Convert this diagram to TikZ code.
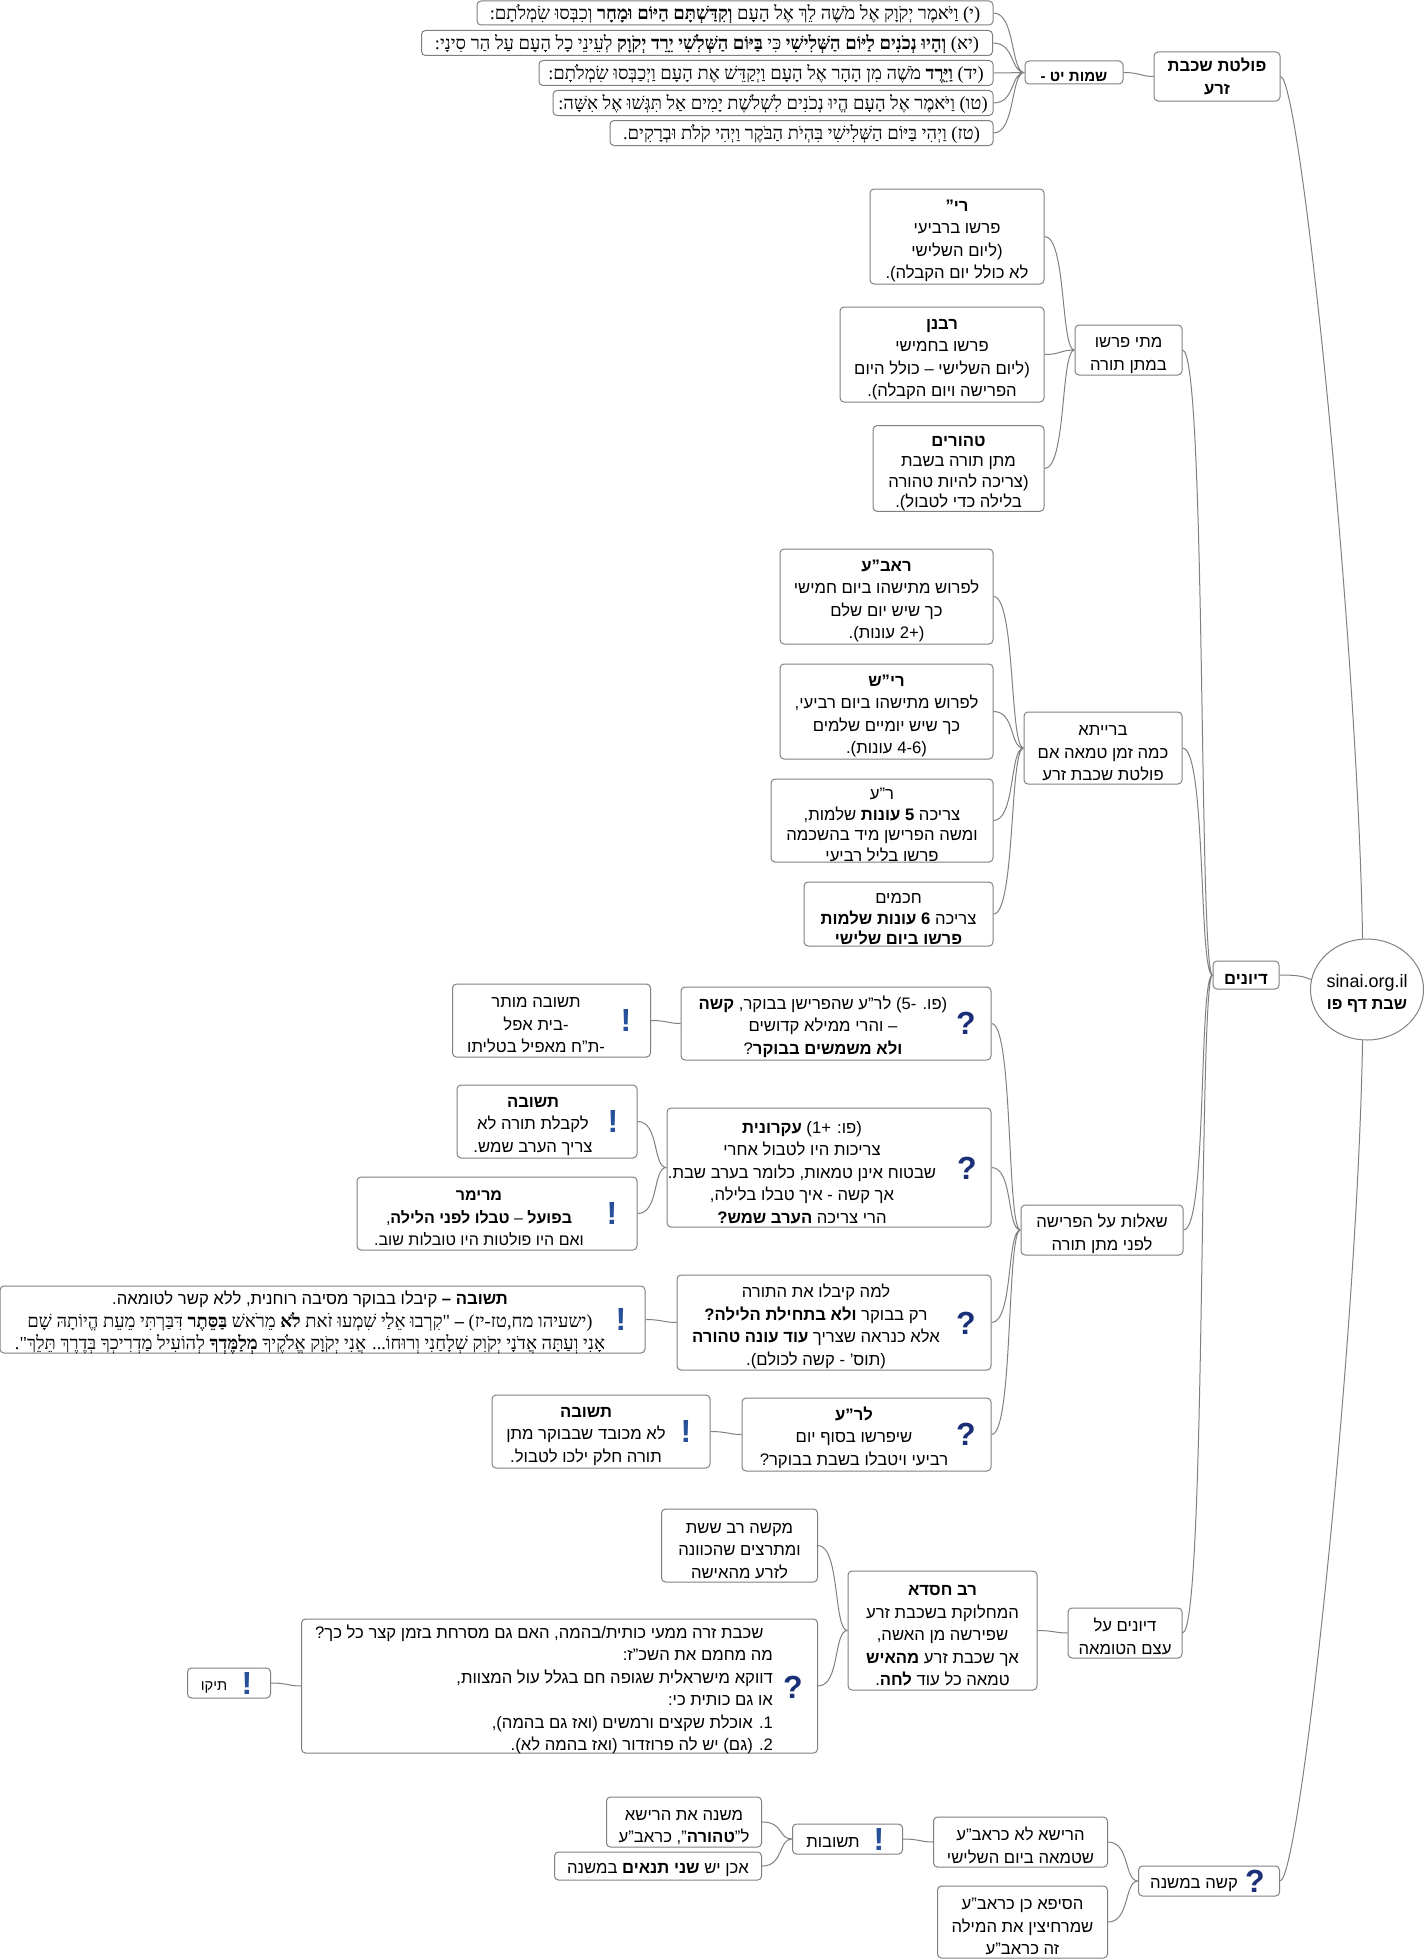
\documentclass[tikz,border=0pt]{standalone}
\usepackage{fontspec}
\usetikzlibrary{shapes.geometric}
\setmainfont[Script=Hebrew]{Liberation Sans}
\newfontfamily\versefont[Script=Hebrew]{Liberation Serif}
\TeXXeTstate=1
\newcommand{\rl}[1]{\beginR #1\endR}
\newcommand{\lr}[1]{\beginL #1\endL{}}
\newcommand{\dn}{\rule{0pt}{15.5pt}}
\definecolor{linegray}{HTML}{808080}
\definecolor{quest}{HTML}{1A2F78}
\definecolor{excl}{HTML}{27509A}
\tikzset{
  sized/.style 2 args={minimum width=#1*.75pt,minimum height=#2*.75pt},
  box/.style={draw=linegray,line width=.75pt,rounded corners=3pt,inner sep=0pt,align=center,
    font=\fontsize{12.5}{16.9}\selectfont},
  onebox/.style={box,execute at begin node=\rule{0pt}{13.5pt}},
  tight/.style={font=\fontsize{12.5}{15.4}\selectfont},
  txt/.style={inner sep=0pt,align=center,font=\fontsize{12.5}{16.9}\selectfont},
  onetxt/.style={txt,execute at begin node=\rule{0pt}{13.5pt}},
  verse/.style={box,font=\versefont\fontsize{13.8}{16}\selectfont,
    execute at begin node=\rule{0pt}{13pt}},
  link/.style={draw=linegray,line width=.75pt},
  qmark/.style={inner sep=0pt,text=quest,font=\bfseries\fontsize{24}{24}\selectfont},
  emark/.style={inner sep=0pt,text=excl,font=\bfseries\fontsize{24}{24}\selectfont},
}
\begin{document}
\begin{tikzpicture}[x=.75pt,y=-.75pt]
  \useasboundingbox (0,0) rectangle (1424,1959);
  % root
  \node[draw=linegray,line width=.75pt,ellipse,inner sep=0pt,sized={113}{101}] (root) at (1367,989.5) {};
  \node[txt] (roottext) at (1367,989.5) {\fontsize{13.5}{16.9}\selectfont\dn sinai.org.il\\\fontsize{12.3}{16.9}\selectfont\rl{\textbf{שבת דף פו}}};
  % top branch
  \node[box,sized={126}{49}] (polet) at (1217,76.5) {\rl{\textbf{פולטת שכבת}}\\\rl{\textbf{זרע}}};
  \node[onebox,sized={98}{23},font=\fontsize{11.3}{14}\selectfont] (shemot) at (1074,72.5) {\rl{\textbf{שמות יט -}}};
  \node[verse,sized={516}{24}] (vten) at (735,13) {\rl{(י) וַיֹּאמֶר יְקֹוָק אֶל מֹשֶׁה לֵךְ אֶל הָעָם \textbf{וְקִדַּשְׁתָּם הַיּוֹם וּמָחָר} וְכִבְּסוּ שִׂמְלֹתָם:}};
  \node[verse,sized={571}{25}] (veleven) at (707,43) {\rl{(יא) \textbf{וְהָיוּ נְכֹנִים לַיּוֹם הַשְּׁלִישִׁי} כִּי \textbf{בַּיּוֹם הַשְּׁלִשִׁי יֵרֵד יְקֹוָק} לְעֵינֵי כָל הָעָם עַל הַר סִינָי:}};
  \node[verse,sized={454}{25}] (vfourteen) at (766,73) {\rl{(יד) \textbf{וַיֵּרֶד} מֹשֶׁה מִן הָהָר אֶל הָעָם וַיְקַדֵּשׁ אֶת הָעָם וַיְכַבְּסוּ שִׂמְלֹתָם:}};
  \node[verse,sized={440}{25}] (vfifteen) at (773,103) {\rl{(טו) וַיֹּאמֶר אֶל הָעָם הֱיוּ נְכֹנִים לִשְׁלֹשֶׁת יָמִים אַל תִּגְּשׁוּ אֶל אִשָּׁה:}};
  \node[verse,sized={383}{25}] (vsixteen) at (801.5,133) {\rl{(טז) וַיְהִי בַּיּוֹם הַשְּׁלִישִׁי בִּהְיֹת הַבֹּקֶר וַיְהִי קֹלֹת וּבְרָקִים.}};
  % main branch
  \node[onebox,sized={66}{28}] (dionim) at (1246,975) {\rl{\textbf{דיונים}}};
  \node[box,sized={107}{50}] (matai) at (1128.5,350) {\dn\rl{מתי פרשו}\\\rl{במתן תורה}};
  \node[box,sized={174}{95}] (ri) at (957,236.5) {\dn\rl{\textbf{רי"}}\\\rl{פרשו ברביעי}\\\rl{(ליום השלישי}\\\rl{לא כולל יום הקבלה).}};
  \node[box,sized={204}{95}] (rabanan) at (942,354.5) {\dn\rl{\textbf{רבנן}}\\\rl{פרשו בחמישי}\\\rl{(ליום השלישי – כולל היום}\\\rl{הפרישה ויום הקבלה).}};
  \node[box,tight,sized={171}{85}] (tehorim) at (958.5,468.5) {\dn\rl{\textbf{טהורים}}\\\rl{מתן תורה בשבת}\\\rl{(צריכה להיות טהורה}\\\rl{בלילה כדי לטבול).}};
  \node[box,sized={158}{72}] (braita) at (1103,748) {\dn\rl{ברייתא}\\\rl{כמה זמן טמאה אם}\\\rl{פולטת שכבת זרע}};
  \node[box,sized={213}{95}] (raava) at (886.5,596.5) {\dn\rl{\textbf{ראב"ע}}\\\rl{לפרוש מתישהו ביום חמישי}\\\rl{כך שיש יום שלם}\\\rl{(\lr{+2} עונות).}};
  \node[box,sized={213}{95}] (rish) at (886.5,711.5) {\dn\rl{\textbf{רי"ש}}\\\rl{לפרוש מתישהו ביום רביעי,}\\\rl{כך שיש יומיים שלמים}\\\rl{(\lr{4-6} עונות).}};
  \node[box,tight,sized={222}{83}] (ra) at (882,820.5) {\dn\rl{ר"ע}\\\rl{צריכה \textbf{5 עונות} שלמות,}\\\rl{ומשה הפרישן מיד בהשכמה}\\\rl{פרשו בליל רביעי}};
  \node[box,tight,sized={189}{64}] (chachamim) at (898.5,914) {\dn\rl{חכמים}\\\rl{צריכה \textbf{6 עונות שלמות}}\\\rl{\textbf{פרשו ביום שלישי}}};
  \node[box,sized={162}{50}] (sheelot) at (1102,1230) {\dn\rl{שאלות על הפרישה}\\\rl{לפני מתן תורה}};
  \node[box,sized={310}{73}] (qfive) at (836,1023.5) {};
  \node[txt] (qfivetext) at (823,1023) {\dn\rl{(פו. \lr{-5}) לר"ע שהפרישן בבוקר, \textbf{קשה}}\\\rl{– והרי ממילא קדושים}\\\rl{\textbf{ולא משמשים בבוקר}?}};
  \node[qmark] (qfivemark) at (966,1023) {?};
  \node[box,sized={198}{73}] (mutar) at (551.5,1020.5) {};
  \node[txt] (mutartext) at (536,1020) {\dn\rl{תשובה מותר}\\\rl{-בית אפל}\\\rl{-ת"ח מאפיל בטליתו}};
  \node[emark] (mutarmark) at (626,1020) {!};
  \node[box,sized={324}{119}] (qone) at (829,1167.5) {};
  \node[txt] (qonetext) at (802,1168) {\dn\rl{(פו: \lr{+1}) \textbf{עקרונית}}\\\rl{צריכות היו לטבול אחרי}\\\rl{שבטוח אינן טמאות, כלומר בערב שבת.}\\\rl{אך קשה - איך טבלו בלילה,}\\\rl{הרי צריכה \textbf{הערב שמש?}}};
  \node[qmark] (qonemark) at (967,1168) {?};
  \node[box,sized={180}{73}] (tshuvaa) at (547,1121.5) {};
  \node[txt] (tshuvaatext) at (533,1121) {\dn\rl{\textbf{תשובה}}\\\rl{לקבלת תורה לא}\\\rl{צריך הערב שמש.}};
  \node[emark] (tshuvaamark) at (613,1121) {!};
  \node[box,sized={280}{73}] (mareimar) at (497,1213.5) {};
  \node[txt,font=\fontsize{12}{16.9}\selectfont] (mareimartext) at (479,1213) {\dn\rl{\textbf{מרימר}}\\\rl{\textbf{בפועל} – \textbf{טבלו לפני הלילה},}\\\rl{ואם היו פולטות היו טובלות שוב.}};
  \node[emark] (mareimarmark) at (612,1213) {!};
  \node[box,sized={314}{95}] (lama) at (834,1322.5) {};
  \node[txt] (lamatext) at (816,1323) {\dn\rl{למה קיבלו את התורה}\\\rl{רק בבוקר \textbf{ולא בתחילת הלילה?}}\\\rl{אלא כנראה שצריך \textbf{עוד עונה טהורה}}\\\rl{(תוס' - קשה לכולם).}};
  \node[qmark] (lamamark) at (966,1323) {?};
  \node[box,sized={645}{67}] (kibelu) at (322.5,1319.5) {};
  \node[txt] (kibelutext) at (310,1319) {\fontsize{12.5}{15}\selectfont\dn\rl{\textbf{תשובה –} קיבלו בבוקר מסיבה רוחנית, ללא קשר לטומאה.}\\
    \versefont\fontsize{13.8}{15}\selectfont\rl{(ישעיהו מח,טז-יז) \textbf{–} "קִרְבוּ אֵלַי שִׁמְעוּ זֹאת \textbf{לֹא} מֵרֹאשׁ \textbf{בַּסֵּתֶר} דִּבַּרְתִּי מֵעֵת הֱיוֹתָהּ שָׁם}\\
    \versefont\fontsize{13.8}{15}\selectfont\rl{אָנִי וְעַתָּה אֲדֹנָי יְקֹוִק שְׁלָחַנִי וְרוּחוֹ... אֲנִי יְקֹוָק אֱלֹקֶיךָ \textbf{מְלַמֶּדְךָ} לְהוֹעִיל מַדְרִיכְךָ בְּדֶרֶךְ תֵּלֵךְ".}};
  \node[emark] (kibelumark) at (621,1319) {!};
  \node[box,sized={249}{73}] (lera) at (866.5,1434.5) {};
  \node[txt] (leratext) at (854,1434) {\dn\rl{\textbf{לר"ע}}\\\rl{שיפרשו בסוף יום}\\\rl{רביעי ויטבלו בשבת בבוקר?}};
  \node[qmark] (leramark) at (966,1434) {?};
  \node[box,sized={218}{73}] (tshuvab) at (601,1431.5) {};
  \node[txt] (tshuvabtext) at (586,1431) {\dn\rl{\textbf{תשובה}}\\\rl{לא מכובד שבבוקר מתן}\\\rl{תורה חלק ילכו לטבול.}};
  \node[emark] (tshuvabmark) at (686,1431) {!};
  \node[box,sized={114}{50}] (etzem) at (1125,1633) {\dn\rl{דיונים על}\\\rl{עצם הטומאה}};
  \node[box,sized={189}{119}] (chisda) at (942.5,1630.5) {\dn\rl{\textbf{רב חסדא}}\\\rl{המחלוקת בשכבת זרע}\\\rl{שפירשה מן האשה,}\\\rl{אך שכבת זרע \textbf{מהאיש}}\\\rl{טמאה כל עוד \textbf{לחה}.}};
  \node[box,sized={156}{73}] (makshe) at (739.5,1545.5) {\dn\rl{מקשה רב ששת}\\\rl{ומתרצים שהכוונה}\\\rl{לזרע מהאישה}};
  \node[box,sized={516}{134}] (shichvat) at (559.5,1686) {};
  \node[txt,align=right] (shichvattext) at (544,1686) {\dn\rl{\hspace*{7pt}שכבת זרה ממעי כותית/בהמה, האם גם מסרחת בזמן קצר כל כך?}\\\rl{מה מחמם את השכ"ז:}\\\rl{דווקא מישראלית שגופה חם בגלל עול המצוות,}\\\rl{או גם כותית כי:}\\\rl{1. אוכלת שקצים ורמשים (ואז גם בהמה),}\\\rl{2. (גם) יש לה פרוזדור (ואז בהמה לא).}};
  \node[qmark] (shichvatmark) at (793,1687) {?};
  \node[box,sized={83}{30}] (tiku) at (229,1683) {};
  \node[onetxt,font=\fontsize{11}{14}\selectfont] (tikutext) at (214,1683) {\rl{תיקו}};
  \node[emark] (tikumark) at (247,1683) {!};
  % bottom branch
  \node[box,sized={141}{30}] (kashe) at (1209,1881) {};
  \node[onetxt] (kashetext) at (1194,1881) {\rl{קשה במשנה}};
  \node[qmark] (kashemark) at (1255,1881) {?};
  \node[box,sized={174}{50}] (reisha) at (1020.5,1842) {\dn\rl{הרישא לא כראב"ע}\\\rl{שטמאה ביום השלישי}};
  \node[box,sized={170}{72}] (seifa) at (1022.5,1922) {\dn\rl{הסיפא כן כראב"ע}\\\rl{שמרחיצין את המילה}\\\rl{זה כראב"ע}};
  \node[box,sized={110}{30}] (tshuvot) at (847.5,1839) {};
  \node[onetxt] (tshuvottext) at (833,1839) {\rl{תשובות}};
  \node[emark] (tshuvotmark) at (879,1839) {!};
  \node[box,sized={155}{50}] (mishna) at (684,1822) {\dn\rl{משנה את הרישא}\\\rl{ל"\textbf{טהורה}", כראב"ע}};
  \node[onebox,sized={207}{28}] (achen) at (658,1866) {\rl{אכן יש \textbf{שני תנאים} במשנה}};
  % connectors
  \draw[link] (polet.east) .. controls +(20,0) and +(-5,-300) .. (root.95)
    (kashe.east) .. controls +(20,0) and +(-5,300) .. (root.265)
    (dionim.east) .. controls +(14,0) and +(-8,-4) .. (root.170);
  \draw[link] (shemot.east) .. controls +(16,0) and +(-12,0) .. (polet.west)
    (vten.east) .. controls +(22,0) and +(-14,0) .. (shemot.west)
    (veleven.east) .. controls +(22,0) and +(-14,0) .. (shemot.west)
    (vfourteen.east) .. controls +(22,0) and +(-14,0) .. (shemot.west)
    (vfifteen.east) .. controls +(22,0) and +(-14,0) .. (shemot.west)
    (vsixteen.east) .. controls +(22,0) and +(-14,0) .. (shemot.west);
  \draw[link] (matai.east) .. controls +(24,0) and +(-14,0) .. (dionim.west)
    (braita.east) .. controls +(24,0) and +(-14,0) .. (dionim.west)
    (sheelot.east) .. controls +(24,0) and +(-14,0) .. (dionim.west)
    (etzem.east) .. controls +(24,0) and +(-14,0) .. (dionim.west);
  \draw[link] (ri.east) .. controls +(22,0) and +(-14,0) .. (matai.west)
    (rabanan.east) .. controls +(16,0) and +(-14,0) .. (matai.west)
    (tehorim.east) .. controls +(22,0) and +(-14,0) .. (matai.west);
  \draw[link] (raava.east) .. controls +(22,0) and +(-14,0) .. (braita.west)
    (rish.east) .. controls +(22,0) and +(-14,0) .. (braita.west)
    (ra.east) .. controls +(22,0) and +(-14,0) .. (braita.west)
    (chachamim.east) .. controls +(22,0) and +(-14,0) .. (braita.west);
  \draw[link] (qfive.east) .. controls +(22,0) and +(-14,0) .. (sheelot.west)
    (qone.east) .. controls +(22,0) and +(-14,0) .. (sheelot.west)
    (lama.east) .. controls +(22,0) and +(-14,0) .. (sheelot.west)
    (lera.east) .. controls +(22,0) and +(-14,0) .. (sheelot.west);
  \draw[link] (mutar.east) .. controls +(16,0) and +(-12,0) .. (qfive.west)
    (tshuvaa.east) .. controls +(22,0) and +(-14,0) .. (qone.west)
    (mareimar.east) .. controls +(22,0) and +(-14,0) .. (qone.west)
    (kibelu.east) .. controls +(16,0) and +(-12,0) .. (lama.west)
    (tshuvab.east) .. controls +(16,0) and +(-12,0) .. (lera.west);
  \draw[link] (chisda.east) .. controls +(16,0) and +(-12,0) .. (etzem.west)
    (makshe.east) .. controls +(22,0) and +(-14,0) .. (chisda.west)
    (shichvat.east) .. controls +(22,0) and +(-14,0) .. (chisda.west)
    (tiku.east) .. controls +(16,0) and +(-12,0) .. (shichvat.west);
  \draw[link] (reisha.east) .. controls +(22,0) and +(-14,0) .. (kashe.west)
    (seifa.east) .. controls +(22,0) and +(-14,0) .. (kashe.west)
    (tshuvot.east) .. controls +(16,0) and +(-12,0) .. (reisha.west)
    (mishna.east) .. controls +(22,0) and +(-14,0) .. (tshuvot.west)
    (achen.east) .. controls +(22,0) and +(-14,0) .. (tshuvot.west);
\end{tikzpicture}
\end{document}
